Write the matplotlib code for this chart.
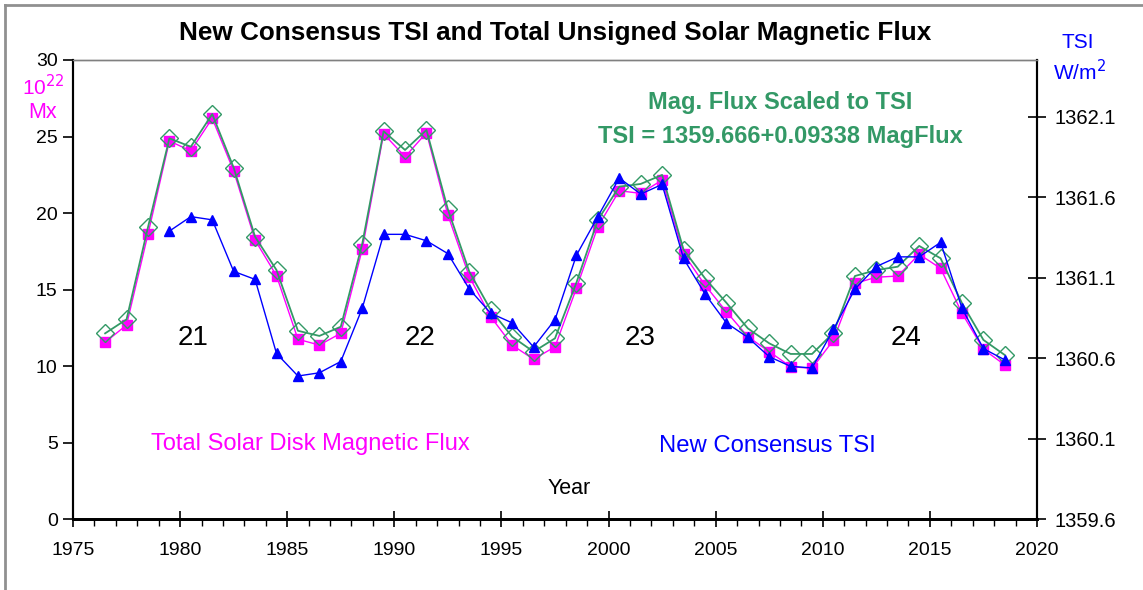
import matplotlib
matplotlib.use("Agg")
import matplotlib.pyplot as plt
from matplotlib.lines import Line2D
from matplotlib.ticker import MultipleLocator

plt.rcParams['font.family'] = ['Liberation Sans', 'DejaVu Sans']

# yearly means, plotted at mid-year
years = [1976.5 + i for i in range(43)]

# total solar disk magnetic flux, 10^22 Mx
mag_flux = [11.56, 12.69, 18.63, 24.71, 24.06, 26.19, 22.75, 18.24, 15.91, 11.76,
            11.38, 12.15, 17.63, 25.18, 23.68, 25.25, 19.88, 15.85, 13.23, 11.38,
            10.45, 11.27, 15.09, 19.11, 21.46, 21.29, 22.16, 17.35, 15.30, 13.56,
            11.93, 10.95, 9.97, 9.86, 11.71, 15.41, 15.81, 15.89, 17.31, 16.39,
            13.46, 11.10, 10.08]

# new consensus TSI, W/m2 (starts 1979.5)
tsi_years = years[3:]
tsi = [1361.39, 1361.48, 1361.46, 1361.14, 1361.09, 1360.63, 1360.49, 1360.51, 1360.58,
       1360.91, 1361.37, 1361.37, 1361.33, 1361.25, 1361.03, 1360.88, 1360.82, 1360.67,
       1360.84, 1361.24, 1361.48, 1361.72, 1361.62, 1361.68, 1361.22, 1361.00, 1360.82,
       1360.73, 1360.61, 1360.55, 1360.54, 1360.78, 1361.03, 1361.17, 1361.23, 1361.23,
       1361.32, 1360.91, 1360.66, 1360.59]

# magnetic flux scaled to TSI, W/m2
flux_scaled = [1360.755, 1360.842, 1361.414, 1361.966, 1361.914, 1362.117, 1361.784,
               1361.355, 1361.148, 1360.771, 1360.739, 1360.796, 1361.310, 1362.010,
               1361.894, 1362.018, 1361.525, 1361.138, 1360.900, 1360.734, 1360.641,
               1360.724, 1361.070, 1361.459, 1361.666, 1361.683, 1361.739, 1361.275,
               1361.097, 1360.945, 1360.786, 1360.693, 1360.627, 1360.627, 1360.759,
               1361.111, 1361.148, 1361.169, 1361.298, 1361.221, 1360.942, 1360.714,
               1360.620]

cycles = ["21", "22", "23", "24"]
cycle_x = [193, 420, 640, 906]   # pixel positions of the cycle labels

MAGENTA = "#FF00FF"
BLUE = "#0000FF"
GREEN = "#339966"

W, H = 1143, 590
fig = plt.figure(figsize=(W / 100, H / 100), dpi=100)
ax = fig.add_axes([73 / W, 1 - 519.3 / H, (1037 - 73) / W, (519.3 - 60) / H])
ax2 = ax.twinx()

ax.plot(years, mag_flux, color=MAGENTA, lw=1, marker="s", ms=6.5, mfc=MAGENTA, mec=MAGENTA)
ax2.plot(years, flux_scaled, color=GREEN, lw=1.3, marker="D", ms=9, mfc="none", mec=GREEN, mew=1)
ax2.plot(tsi_years, tsi, color=BLUE, lw=1, marker="^", ms=7.5, mfc=BLUE, mec=BLUE)

ax.set_xlim(1975, 2020)
ax.set_ylim(0, 30)
ax2.set_ylim(1359.6, 1359.6 + (519.3 - 60) / 161)

ax.xaxis.set_major_locator(MultipleLocator(5))
ax.xaxis.set_minor_locator(MultipleLocator(1))
ax.yaxis.set_major_locator(MultipleLocator(5))
ax2.set_yticks([1359.6, 1360.1, 1360.6, 1361.1, 1361.6, 1362.1])
ax2.set_yticklabels(["1359.6", "1360.1", "1360.6", "1361.1", "1361.6", "1362.1"])

ax.tick_params(axis="x", which="major", direction="inout", length=11, width=1.2, labelsize=14, pad=11)
ax.tick_params(axis="x", which="minor", direction="out", length=5, width=1)
ax.tick_params(axis="y", direction="out", length=7, width=1.2, labelsize=14, pad=4)
ax2.tick_params(axis="y", direction="inout", length=13, width=1.2, labelsize=14.5, pad=6)

for a in (ax, ax2):
    a.spines["top"].set_color("#808080")
    a.spines["top"].set_linewidth(1)
    a.spines["left"].set_linewidth(1.5)
    a.spines["right"].set_linewidth(1.5)
    a.spines["bottom"].set_linewidth(2)

def px(x, y):
    return x / W, 1 - y / H

fig.text(*px(555, 33), "New Consensus TSI and Total Unsigned Solar Magnetic Flux",
         ha="center", va="center", fontsize=18.8, fontweight="bold")
fig.text(*px(43, 87), r"10$^{22}$", ha="center", va="center", fontsize=15, color=MAGENTA)
fig.text(*px(43, 112), "Mx", ha="center", va="center", fontsize=15.5, color=MAGENTA)
fig.text(*px(1078, 43), "TSI", ha="center", va="center", fontsize=15, color=BLUE)
fig.text(*px(1079, 72), r"W/m$^2$", ha="center", va="center", fontsize=15, color=BLUE)
fig.text(*px(780, 103), "Mag. Flux Scaled to TSI", ha="center", va="center",
         fontsize=17, fontweight="bold", color=GREEN)
fig.text(*px(780, 137), "TSI = 1359.666+0.09338 MagFlux", ha="center", va="center",
         fontsize=17, fontweight="bold", color=GREEN)
for c, cx in zip(cycles, cycle_x):
    fig.text(*px(cx, 338), c, ha="center", va="center", fontsize=20)
fig.text(*px(310, 444), "Total Solar Disk Magnetic Flux", ha="center", va="center",
         fontsize=17, color=MAGENTA)
fig.text(*px(767, 446), "New Consensus TSI", ha="center", va="center", fontsize=17.2, color=BLUE)
fig.text(*px(569, 488), "Year", ha="center", va="center", fontsize=15.5)

# outer frame (left and top edges)
fig.add_artist(Line2D([5 / W, 5 / W], [0, 1 - 5 / H], transform=fig.transFigure, color="#909090", lw=2))
fig.add_artist(Line2D([5 / W, 1], [1 - 5 / H, 1 - 5 / H], transform=fig.transFigure, color="#909090", lw=2))

fig.savefig("out.png", dpi=100)
